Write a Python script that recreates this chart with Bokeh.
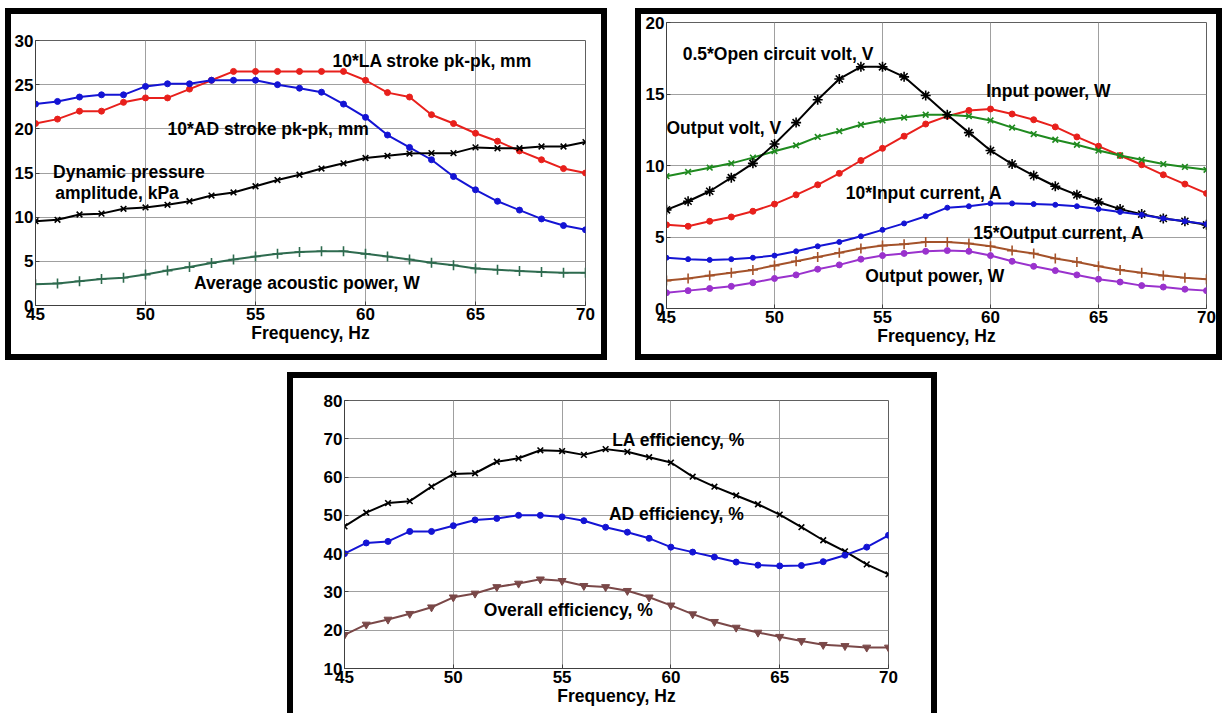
from bokeh.plotting import figure
from bokeh.models import FixedTicker, Spacer
from bokeh.layouts import row, column
from bokeh.core.properties import value
from bokeh.embed import file_html
from bokeh.resources import INLINE

freq = list(range(45, 71))
x_ticks = [45, 50, 55, 60, 65, 70]

# ---- Panel 1 ----
la_stroke = [20.6, 21.1, 22.0, 22.0, 23.0, 23.5, 23.5, 24.5, 25.5, 26.5, 26.5, 26.5, 26.5,
             26.5, 26.5, 25.5, 24.1, 23.6, 21.6, 20.6, 19.5, 18.6, 17.5, 16.5, 15.5, 15.0]
ad_stroke = [22.8, 23.1, 23.6, 23.85, 23.85, 24.8, 25.1, 25.1, 25.5, 25.5, 25.5, 25.0, 24.6,
             24.15, 22.8, 21.3, 19.3, 17.9, 16.5, 14.6, 13.1, 11.8, 10.8, 9.8, 9.05, 8.57]
dyn_pressure = [9.55, 9.7, 10.3, 10.4, 10.95, 11.1, 11.4, 11.8, 12.45, 12.8, 13.5, 14.2, 14.8,
                15.5, 16.1, 16.7, 16.95, 17.2, 17.25, 17.25, 17.9, 17.8, 17.8, 18.0, 18.0, 18.5]
acoustic_power = [2.4, 2.5, 2.75, 3.0, 3.15, 3.5, 3.95, 4.35, 4.8, 5.2, 5.55, 5.85, 6.05,
                  6.15, 6.15, 5.85, 5.55, 5.2, 4.85, 4.55, 4.2, 4.05, 3.9, 3.8, 3.7, 3.7]
p1_yticks = [0, 5, 10, 15, 20, 25, 30]

# ---- Panel 2 ----
ocv_half = [6.9, 7.5, 8.2, 9.15, 10.15, 11.5, 13.0, 14.6, 16.05, 16.9, 16.9, 16.2, 14.9,
            13.55, 12.3, 11.05, 10.1, 9.3, 8.55, 7.95, 7.45, 6.95, 6.6, 6.3, 6.1, 5.85]
out_volt = [9.25, 9.55, 9.85, 10.15, 10.55, 11.0, 11.4, 12.0, 12.4, 12.85, 13.15, 13.35, 13.55,
            13.55, 13.45, 13.15, 12.65, 12.2, 11.8, 11.45, 11.05, 10.7, 10.4, 10.1, 9.9, 9.7]
in_power = [5.85, 5.75, 6.1, 6.4, 6.8, 7.3, 7.95, 8.65, 9.45, 10.35, 11.2, 12.05, 12.9,
            13.45, 13.85, 13.95, 13.6, 13.2, 12.7, 12.0, 11.35, 10.7, 10.05, 9.35, 8.7, 8.05]
in_current10 = [3.55, 3.45, 3.4, 3.45, 3.55, 3.7, 4.0, 4.35, 4.65, 5.05, 5.5, 5.95, 6.45,
                7.05, 7.15, 7.35, 7.35, 7.3, 7.25, 7.15, 6.95, 6.75, 6.55, 6.3, 6.1, 5.9]
out_current15 = [1.95, 2.1, 2.3, 2.5, 2.7, 3.0, 3.3, 3.6, 3.9, 4.2, 4.4, 4.5, 4.65,
                 4.65, 4.55, 4.35, 4.05, 3.85, 3.5, 3.25, 2.95, 2.7, 2.5, 2.3, 2.15, 2.05]
out_power = [1.1, 1.25, 1.4, 1.55, 1.8, 2.1, 2.35, 2.75, 3.05, 3.45, 3.7, 3.85, 4.0,
             4.05, 4.0, 3.7, 3.3, 2.95, 2.65, 2.35, 2.05, 1.85, 1.6, 1.5, 1.35, 1.25]
p2_yticks = [0, 5, 10, 15, 20]

# ---- Panel 3 ----
la_eff = [47.1, 50.7, 53.2, 53.7, 57.5, 60.8, 61.0, 64.0, 64.9, 67.0, 66.8, 65.8, 67.3,
          66.6, 65.2, 63.8, 60.1, 57.5, 55.2, 52.9, 50.2, 46.9, 43.5, 40.6, 37.2, 34.6]
ad_eff = [40.0, 42.8, 43.2, 45.8, 45.8, 47.3, 48.8, 49.2, 50.0, 50.0, 49.6, 48.6, 46.9,
          45.6, 44.0, 41.7, 40.4, 39.1, 37.8, 37.0, 36.8, 36.9, 37.9, 39.6, 41.7, 44.8]
overall_eff = [18.8, 21.5, 22.8, 24.3, 26.0, 28.6, 29.6, 31.3, 32.2, 33.3, 32.9, 31.6, 31.3,
               30.3, 28.6, 26.5, 24.2, 22.2, 20.7, 19.4, 18.3, 17.2, 16.2, 15.9, 15.5, 15.5]
p3_yticks = [10, 20, 30, 40, 50, 60, 70, 80]

x_label = "Frequency, Hz"

FONT = "Liberation Sans"
TICK_SIZE = "17px"
LABEL_SIZE = "17.5px"


def make_fig(width, height, yr, yticks, mb, border_css):
    left, right, top, bottom = mb
    p = figure(width=width, height=height, x_range=(45, 70), y_range=yr,
               output_backend="svg", toolbar_location=None, title=None,
               min_border_left=left, min_border_right=right,
               min_border_top=top, min_border_bottom=bottom,
               background_fill_color="white", border_fill_color="white")
    p.frame_align = False
    p.styles = border_css
    p.xaxis.ticker = FixedTicker(ticks=x_ticks)
    p.yaxis.ticker = FixedTicker(ticks=yticks)
    for ax in (p.xaxis[0], p.yaxis[0]):
        ax.major_label_text_font = FONT
        ax.major_label_text_font_style = "bold"
        ax.major_label_text_font_size = TICK_SIZE
        ax.major_label_text_color = "black"
        ax.axis_line_color = "#404040"
        ax.major_tick_line_color = "#404040"
        ax.major_tick_in = 4
        ax.major_tick_out = 0
        ax.minor_tick_line_color = None
    p.yaxis.major_label_standoff = 2
    p.xaxis.major_label_standoff = 2
    p.xaxis.axis_label = x_label
    p.xaxis.axis_label_text_font = FONT
    p.xaxis.axis_label_text_font_style = "bold"
    p.xaxis.axis_label_text_font_size = LABEL_SIZE
    p.xaxis.axis_label_text_color = "black"
    p.xaxis.axis_label_standoff = 0
    p.grid.grid_line_color = "#a0a0a0"
    p.grid.grid_line_width = 1
    p.outline_line_color = "#606060"
    p.outline_line_width = 1
    return p


def series(p, y, color, marker, size, lw=2):
    p.line(freq, y, line_color=color, line_width=lw)
    if marker in ("circle", "inverted_triangle"):
        p.scatter(freq, y, marker=marker, size=size, fill_color=color, line_color=color)
    else:
        p.scatter(freq, y, marker=marker, size=size, line_color=color, line_width=1.6)


def labels(p, xs, ys, texts):
    p.text(x=xs, y=ys, text=texts, text_font=value(FONT), text_font_style="bold",
           text_font_size=LABEL_SIZE, text_baseline="middle", text_align="left",
           text_color="black")


full_border = {"border": "6px solid black"}
open_border = {"border-left": "6px solid black", "border-top": "6px solid black",
               "border-right": "6px solid black"}

# Panel 1  (outer box 602 x 352, canvas origin 6px inside the border)
p1 = make_fig(602, 352, (0, 30), p1_yticks, (24, 28, 26, 61), full_border)
series(p1, la_stroke, "#e8201c", "circle", 6)
series(p1, ad_stroke, "#1414d4", "circle", 6)
series(p1, dyn_pressure, "black", "x", 8)
series(p1, acoustic_power, "#2e6b4f", "cross", 10)
labels(p1, [58.5, 51.0, 45.8, 45.9, 52.2], [27.7, 20.0, 15.1, 12.7, 2.5],
       ["10*LA stroke pk-pk, mm", "10*AD stroke pk-pk, mm", "Dynamic pressure",
        "amplitude, kPa", "Average acoustic power, W"])

# Panel 2
p2 = make_fig(587, 352, (0, 20), p2_yticks, (25, 22, 8, 58), full_border)
series(p2, in_power, "#e8201c", "circle", 6)
series(p2, out_volt, "#1f8a1f", "x", 8)
series(p2, ocv_half, "black", "asterisk", 10)
series(p2, in_current10, "#1414d4", "circle", 5)
series(p2, out_current15, "#a4522a", "cross", 10)
series(p2, out_power, "#9a32cd", "circle", 6)
labels(p2, [45.75, 45.0, 59.8, 53.3, 59.2, 54.2], [17.8, 12.6, 15.2, 8.1, 5.3, 2.25],
       ["0.5*Open circuit volt, V", "Output volt, V", "Input power, W",
        "10*Input current, A", "15*Output current, A", "Output power, W"])

# Panel 3
p3 = make_fig(650, 341, (10, 80), p3_yticks, (51, 55, 22, 51), open_border)
series(p3, la_eff, "black", "x", 8)
series(p3, ad_eff, "#1414d4", "circle", 6)
series(p3, overall_eff, "#7a4848", "inverted_triangle", 8)
labels(p3, [57.3, 57.15, 51.4], [69.7, 50.4, 25.2],
       ["LA efficiency, %", "AD efficiency, %", "Overall efficiency, %"])

layout = column(Spacer(width=10, height=8),
                row(Spacer(width=5, height=352), p1, Spacer(width=28, height=352), p2),
                Spacer(width=10, height=12),
                row(Spacer(width=287, height=341), p3))

open("out.html", "w").write(file_html(layout, INLINE))
